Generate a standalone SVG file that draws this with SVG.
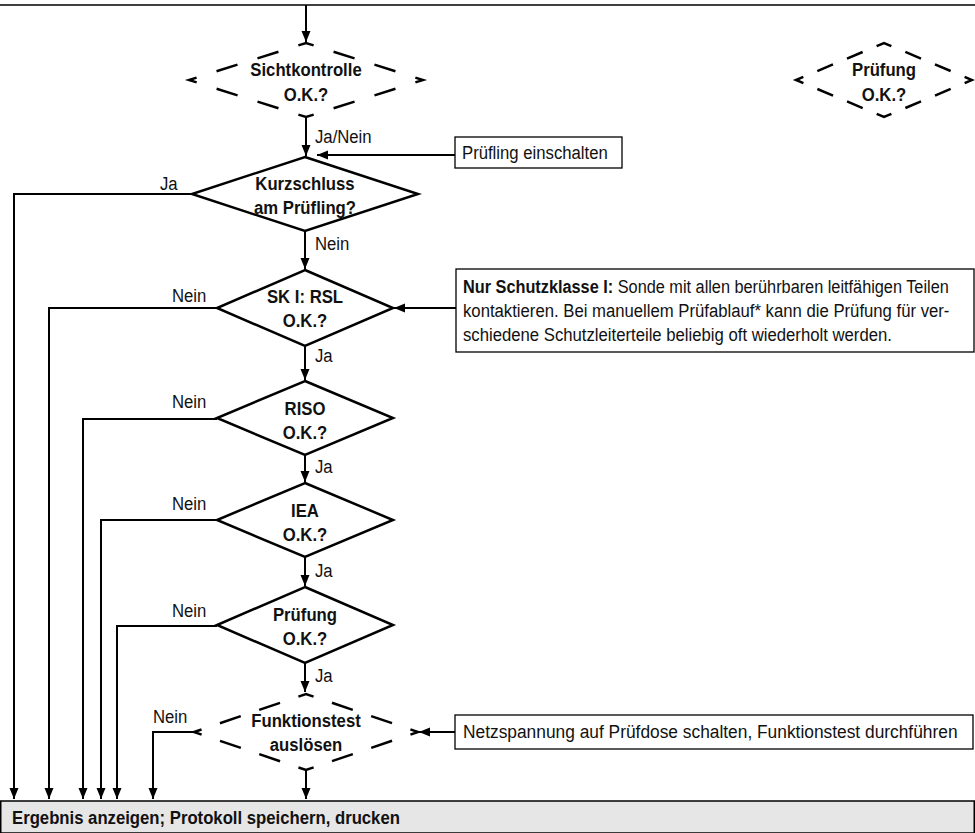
<svg xmlns="http://www.w3.org/2000/svg" width="975" height="833" viewBox="0 0 975 833">
<style>
text{font-family:"Liberation Sans",Arial,sans-serif;font-size:19px;fill:#111}
.b{font-weight:bold}
.c{text-anchor:middle}
.dia{fill:#fff;stroke:#000;stroke-width:2.5;stroke-linejoin:miter}
.dash{fill:none;stroke:#000;stroke-width:2.5;stroke-linejoin:miter;stroke-miterlimit:10}
.box{fill:#fff;stroke:#000;stroke-width:1.3}
.con path{fill:none;stroke:#000;stroke-width:2}
</style>
<defs>
<marker id="ah" markerUnits="userSpaceOnUse" markerWidth="12" markerHeight="10" refX="11" refY="4.5" orient="auto">
<path d="M0,0 L11,4.5 L0,9 Z" fill="#000"/>
</marker>
</defs>
<rect width="975" height="833" fill="#fff"/>
<g class="con">
<path d="M0,5 H975" style="stroke-width:1.5"/>
<path d="M306,5 V42" marker-end="url(#ah)"/>
<path d="M306,117 V156" marker-end="url(#ah)"/>
<path d="M455,155 H317" marker-end="url(#ah)"/>
<path d="M192,194 H14 V799" marker-end="url(#ah)"/>
<path d="M305,231 V269" marker-end="url(#ah)"/>
<path d="M217,308 H49 V799" marker-end="url(#ah)"/>
<path d="M456,308 H394" marker-end="url(#ah)"/>
<path d="M305,346 V380" marker-end="url(#ah)"/>
<path d="M217,419 H83 V799" marker-end="url(#ah)"/>
<path d="M305,455 V482" marker-end="url(#ah)"/>
<path d="M217,520 H101 V799" marker-end="url(#ah)"/>
<path d="M305,557 V586" marker-end="url(#ah)"/>
<path d="M217,626 H117 V799" marker-end="url(#ah)"/>
<path d="M305,663 V692" marker-end="url(#ah)"/>
<path d="M194,732 H153 V799" marker-end="url(#ah)"/>
<path d="M455,732 H419" marker-end="url(#ah)"/>
<path d="M306,770 V799" marker-end="url(#ah)"/>
</g>
<g id="labels" transform="scale(0.88,1)">
<text x="357.95" y="143">Ja/Nein</text>
<text x="357.95" y="250">Nein</text>
<text x="357.95" y="362">Ja</text>
<text x="357.95" y="473">Ja</text>
<text x="357.95" y="577">Ja</text>
<text x="357.95" y="682">Ja</text>
<text x="181.82" y="190">Ja</text>
<text x="195.45" y="302">Nein</text>
<text x="195.45" y="408">Nein</text>
<text x="195.45" y="510">Nein</text>
<text x="195.45" y="617">Nein</text>
<text x="173.86" y="723">Nein</text>
</g>
<g id="sichtkontrolle">
<path class="dash" d="M247.5,61.5 L306,43 L423,80 L306,117 L189,80 Z" stroke-dasharray="16 20.9 22 20.9 22 20.9" stroke-dashoffset="69.35"/>
<g transform="scale(0.88,1)">
<text class="b c" x="347.73" y="76">Sichtkontrolle</text>
<text class="b c" x="347.73" y="101">O.K.?</text>
</g>
</g>
<g id="pruefung-legend">
<path class="dash" d="M840,61.5 L884,43 L972,80 L884,117 L796,80 Z" stroke-dasharray="16 15.15 17 15.15 17 15.15" stroke-dashoffset="55.73"/>
<g transform="scale(0.88,1)">
<text class="b c" x="1004.55" y="76">Prüfung</text>
<text class="b c" x="1004.55" y="101">O.K.?</text>
</g>
</g>
<g id="pruefling-einschalten">
<rect class="box" x="455" y="137" width="167" height="31"/>
<g transform="scale(0.88,1)">
<text x="525" y="159">Prüfling einschalten</text>
</g>
</g>
<g id="kurzschluss">
<polygon class="dia" points="305,157 418,194 305,231 192,194"/>
<g transform="scale(0.88,1)">
<text class="b c" x="346.59" y="190">Kurzschluss</text>
<text class="b c" x="346.59" y="214">am Prüfling?</text>
</g>
</g>
<g id="ski-rsl">
<polygon class="dia" points="305,270 393,308 305,346 217,308"/>
<g transform="scale(0.88,1)">
<text class="b c" x="346.59" y="303">SK I: RSL</text>
<text class="b c" x="346.59" y="327">O.K.?</text>
</g>
</g>
<g id="schutzklasse-note">
<rect class="box" x="456" y="269" width="518" height="83"/>
<g transform="scale(0.88,1)">
<text x="526.14" y="293" textLength="552" lengthAdjust="spacingAndGlyphs"><tspan class="b">Nur Schutzklasse I:</tspan> Sonde mit allen berührbaren leitfähigen Teilen</text>
<text x="526.14" y="317">kontaktieren. Bei manuellem Prüfablauf* kann die Prüfung für ver-</text>
<text x="526.14" y="341">schiedene Schutzleiterteile beliebig oft wiederholt werden.</text>
</g>
</g>
<g id="riso">
<polygon class="dia" points="305,381 393,418 305,455 217,418"/>
<g transform="scale(0.88,1)">
<text class="b c" x="346.59" y="415">RISO</text>
<text class="b c" x="346.59" y="439">O.K.?</text>
</g>
</g>
<g id="iea">
<polygon class="dia" points="305,483 393,520 305,557 217,520"/>
<g transform="scale(0.88,1)">
<text class="b c" x="346.59" y="517">IEA</text>
<text class="b c" x="346.59" y="541">O.K.?</text>
</g>
</g>
<g id="pruefung">
<polygon class="dia" points="305,587 393,625 305,663 217,625"/>
<g transform="scale(0.88,1)">
<text class="b c" x="346.59" y="621">Prüfung</text>
<text class="b c" x="346.59" y="645">O.K.?</text>
</g>
</g>
<g id="funktionstest">
<path class="dash" d="M250,713 L306,694 L418,732 L306,770 L194,732 Z" stroke-dasharray="16 19.42 22 19.42 22 19.42" stroke-dashoffset="67.14"/>
<g transform="scale(0.88,1)">
<text class="b c" x="347.73" y="727">Funktionstest</text>
<text class="b c" x="347.73" y="751">auslösen</text>
</g>
</g>
<g id="netzspannung">
<rect class="box" x="455" y="715" width="518" height="34"/>
<g transform="scale(0.88,1)">
<text x="526.14" y="738" textLength="562" lengthAdjust="spacingAndGlyphs">Netzspannung auf Prüfdose schalten, Funktionstest durchführen</text>
</g>
</g>
<g id="ergebnis">
<rect x="0.75" y="801" width="973.5" height="32" fill="#e6e6e6" stroke="#000" stroke-width="1.5"/>
<g transform="scale(0.88,1)">
<text class="b" x="13.64" y="824">Ergebnis anzeigen; Protokoll speichern, drucken</text>
</g>
</g>
</svg>
